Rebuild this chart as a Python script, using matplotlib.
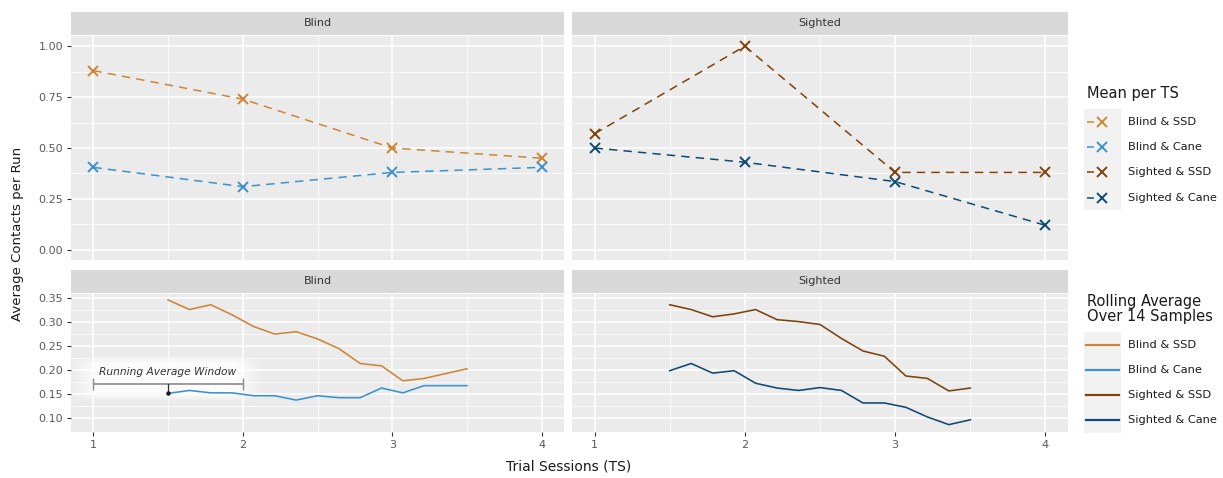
import numpy as np
import matplotlib
matplotlib.use("Agg")
import matplotlib.pyplot as plt

plt.rcParams['font.family'] = ['DejaVu Sans']

W, H = 1223, 478
fig = plt.figure(figsize=(W / 100, H / 100), dpi=100)

# colours per group
groups = ["Blind & SSD", "Blind & Cane", "Sighted & SSD", "Sighted & Cane"]
colors = {"Blind & SSD": "#CF8534", "Blind & Cane": "#3B92CF",
          "Sighted & SSD": "#7E420A", "Sighted & Cane": "#0E4A73"}

# mean per trial session
ts = [1, 2, 3, 4]
mean_blind_ssd = [0.88, 0.74, 0.50, 0.45]
mean_blind_cane = [0.405, 0.31, 0.38, 0.405]
mean_sighted_ssd = [0.57, 1.00, 0.38, 0.38]
mean_sighted_cane = [0.50, 0.43, 0.335, 0.12]

# rolling average over 14 samples (7 samples per session)
roll_x = [1.5 + k / 7 for k in range(15)]
roll_blind_ssd = [0.346, 0.326, 0.336, 0.315, 0.291, 0.275, 0.280, 0.265,
                  0.245, 0.214, 0.209, 0.178, 0.183, 0.193, 0.203]
roll_blind_cane = [0.152, 0.158, 0.153, 0.153, 0.147, 0.147, 0.138, 0.147,
                   0.143, 0.143, 0.163, 0.153, 0.168, 0.168, 0.168]
roll_sighted_ssd = [0.336, 0.326, 0.311, 0.317, 0.326, 0.305, 0.301, 0.295,
                    0.266, 0.240, 0.229, 0.188, 0.183, 0.157, 0.163]
roll_sighted_cane = [0.199, 0.214, 0.194, 0.199, 0.173, 0.163, 0.158, 0.164,
                     0.158, 0.132, 0.132, 0.123, 0.103, 0.087, 0.097]

top_yticks = [0.0, 0.25, 0.5, 0.75, 1.0]
bot_yticks = [0.10, 0.15, 0.20, 0.25, 0.30, 0.35]

TXT = "#1A1A1A"
DASH = (0, (5.5, 4))


def px_axes(x0, y0, x1, y1):
    # pixel box (top-left origin) -> figure axes
    return fig.add_axes([x0 / W, 1 - y1 / H, (x1 - x0) / W, (y1 - y0) / H])


def strip(x0, x1, y0, y1, label):
    s = px_axes(x0, y0, x1, y1)
    s.set_facecolor("#D9D9D9")
    s.set_xticks([]); s.set_yticks([])
    for sp in s.spines.values():
        sp.set_visible(False)
    s.text(0.5, 0.5, label, ha="center", va="center", fontsize=8, color="#333333",
           transform=s.transAxes)


def style(ax, yticks, minor_y, ylim, show_y, show_x):
    ax.set_facecolor("#EBEBEB")
    for sp in ax.spines.values():
        sp.set_visible(False)
    ax.set_xlim(0.85, 4.15)
    ax.set_ylim(*ylim)
    ax.set_xticks(ts)
    ax.set_xticks([1.5, 2.5, 3.5], minor=True)
    ax.set_yticks(yticks)
    ax.set_yticks(minor_y, minor=True)
    ax.grid(True, which="major", color="white", lw=1.1)
    ax.grid(True, which="minor", color="white", lw=0.55)
    ax.set_axisbelow(True)
    ax.tick_params(which="minor", length=0)
    ax.tick_params(which="major", length=3, width=0.8, color="#333333",
                   labelsize=8, labelcolor="#595959", pad=2.5)
    if show_y:
        ax.set_yticklabels([f"{v:.2f}" for v in yticks])
    else:
        ax.tick_params(axis="y", length=0, labelleft=False)
    if show_x:
        ax.set_xticklabels([str(t) for t in ts])
    else:
        ax.tick_params(axis="x", length=0, labelbottom=False)


panels_x = [(71, 564, "Blind"), (572, 1068, "Sighted")]
top_ylim = (-0.05, 1.05)
bot_ylim = (0.0717, 0.3583)

top_series = [(mean_blind_ssd, "Blind & SSD"), (mean_blind_cane, "Blind & Cane")], \
             [(mean_sighted_ssd, "Sighted & SSD"), (mean_sighted_cane, "Sighted & Cane")]
bot_series = [(roll_blind_ssd, "Blind & SSD"), (roll_blind_cane, "Blind & Cane")], \
             [(roll_sighted_ssd, "Sighted & SSD"), (roll_sighted_cane, "Sighted & Cane")]

for i, (x0, x1, name) in enumerate(panels_x):
    # top row
    strip(x0, x1, 12, 35, name)
    ax = px_axes(x0, 36, x1, 260)
    style(ax, top_yticks, [0.125, 0.375, 0.625, 0.875], top_ylim, i == 0, False)
    for vals, g in top_series[i]:
        ax.plot(ts, vals, color=colors[g], lw=1.1, ls=DASH)
        ax.plot(ts, vals, color=colors[g], lw=0, marker="x", ms=7.5, mew=1.4)

    # bottom row
    strip(x0, x1, 270, 293, name)
    bx = px_axes(x0, 294, x1, 432)
    style(bx, bot_yticks, [0.125, 0.175, 0.225, 0.275, 0.325], bot_ylim, i == 0, True)
    for vals, g in bot_series[i]:
        bx.plot(roll_x, vals, color=colors[g], lw=1.15)

    if i == 0:
        # soft white glow behind annotation
        gx = np.linspace(-1, 1, 200)
        gy = np.linspace(-1, 1, 60)
        fx = np.clip((1 - np.abs(gx)) / 0.3, 0, 1)
        fy = np.clip((1 - np.abs(gy)) / 0.35, 0, 1)
        alpha = np.outer(fy, fx) * 0.9
        img = np.ones((60, 200, 4))
        img[..., 3] = alpha
        bx.imshow(img, extent=(0.84, 2.14, 0.133, 0.23), aspect="auto",
                  interpolation="bilinear", zorder=1.5)
        bx.set_xlim(0.85, 4.15)
        bx.set_ylim(*bot_ylim)
        ax_y = 0.172
        bx.errorbar([1.5], [ax_y], xerr=[[0.5], [0.5]], fmt="none", ecolor="#8C8C8C",
                    elinewidth=1.2, capsize=4, capthick=1.0, zorder=3)
        bx.plot([1.5, 1.5], [ax_y, roll_blind_cane[0]], color="#333333", lw=0.9, zorder=3)
        bx.plot([1.5], [roll_blind_cane[0]], "o", color="#1A1A1A", ms=2.2, zorder=4)
        bx.text(1.5, 0.197, "Running Average Window", ha="center", va="center",
                fontsize=7.7, style="italic", color="#333333", zorder=4)

# axis titles
fig.text(18 / W, 1 - 234 / H, "Average Contacts per Run", rotation=90,
         ha="center", va="center", fontsize=9.5, color=TXT)
fig.text(569 / W, 1 - 467 / H, "Trial Sessions (TS)", ha="center", va="center",
         fontsize=10, color=TXT)

# legends drawn in a pixel-space overlay axes
lg = px_axes(0, 0, W, H)
lg.set_xlim(0, W)
lg.set_ylim(H, 0)
lg.axis("off")
lg.patch.set_alpha(0)

step = 25.2
for title, t_y, first_y, kind in [("Mean per TS", 93, 122, "mean"),
                                  ("Rolling Average\nOver 14 Samples", 309, 344.5, "roll")]:
    lg.text(1087, t_y, title, ha="left", va="center", fontsize=10.5, color=TXT,
            linespacing=1.0)
    box_top = first_y - step / 2
    lg.add_patch(plt.Rectangle((1084, box_top), 37, step * 4, color="#F2F2F2", lw=0))
    for k, g in enumerate(groups):
        yk = first_y + k * step
        if kind == "mean":
            lg.plot([1087, 1118], [yk, yk], color=colors[g], lw=1.1, ls=(0, (4.5, 20)))
            lg.plot([1102], [yk], color=colors[g], marker="x", ms=7.5, mew=1.4)
        else:
            lg.plot([1086, 1119], [yk, yk], color=colors[g], lw=1.6)
        lg.text(1128, yk, g, ha="left", va="center", fontsize=8.2, color=TXT)

fig.savefig("out.png", dpi=100, facecolor="white")
